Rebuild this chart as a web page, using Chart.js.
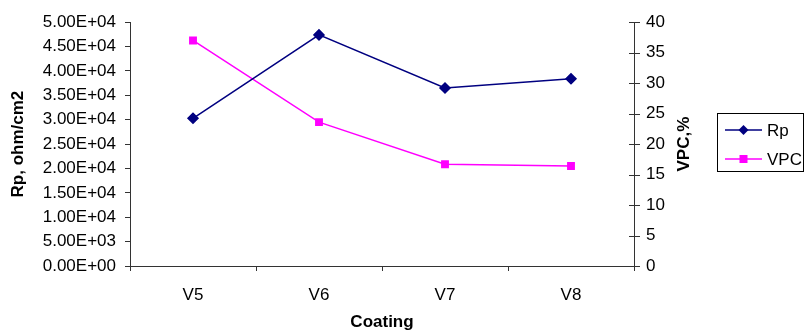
<!DOCTYPE html>
<html>
<head>
<meta charset="utf-8">
<script src="https://cdn.jsdelivr.net/npm/chart.js@4.4.1/dist/chart.umd.min.js"></script>
<style>
  html, body { margin: 0; padding: 0; background: #fff; }
  #wrap { width: 804px; height: 331px; }
</style>
</head>
<body>
<div id="wrap"><canvas id="canvas" width="804" height="331"></canvas></div>
<script>
const coatings = ["V5", "V6", "V7", "V8"];
const rpValues = [30300, 47400, 36500, 38400];
const vpcValues = [37.0, 23.6, 16.7, 16.4];
const rpTicks = [0, 5000, 10000, 15000, 20000, 25000, 30000, 35000, 40000, 45000, 50000];

const axisColor = "#333333";
const font = "Arial, 'Liberation Sans', sans-serif";

// right axis: ticks cross the axis line, title reads bottom-to-top
const rightAxisDecor = {
  id: "rightAxisDecor",
  afterDraw(chart) {
    const ctx = chart.ctx;
    const scale = chart.scales.y1;
    ctx.save();
    ctx.strokeStyle = axisColor;
    ctx.lineWidth = 1;
    ctx.beginPath();
    scale.ticks.forEach((t) => {
      const y = Math.round(scale.getPixelForValue(t.value)) + 0.5;
      ctx.moveTo(scale.left - 5, y);
      ctx.lineTo(scale.left + 6, y);
    });
    ctx.stroke();
    ctx.font = "bold 17px " + font;
    ctx.fillStyle = "#000";
    ctx.textAlign = "center";
    ctx.textBaseline = "middle";
    ctx.translate(scale.right - 10, (scale.top + scale.bottom) / 2);
    ctx.rotate(-Math.PI / 2);
    ctx.fillText("VPC,%", 0, 0);
    ctx.restore();
  },
};

// boxed legend to the right of the plot
const boxLegend = {
  id: "boxLegend",
  afterDraw(chart) {
    const ctx = chart.ctx;
    const x = 717, y = 113, w = 86, h = 58;
    ctx.save();
    ctx.strokeStyle = "#000";
    ctx.lineWidth = 1;
    ctx.strokeRect(x + 0.5, y + 0.5, w, h);
    ctx.font = "17px " + font;
    ctx.textBaseline = "middle";
    chart.data.datasets.forEach((ds, i) => {
      const cy = y + 17 + i * 29;
      ctx.strokeStyle = ds.borderColor;
      ctx.lineWidth = 1.5;
      ctx.beginPath();
      ctx.moveTo(x + 8, cy);
      ctx.lineTo(x + 45, cy);
      ctx.stroke();
      ctx.fillStyle = ds.pointBackgroundColor;
      if (ds.pointStyle === "rectRot") {
        ctx.beginPath();
        ctx.moveTo(x + 26.5, cy - 5);
        ctx.lineTo(x + 31.5, cy);
        ctx.lineTo(x + 26.5, cy + 5);
        ctx.lineTo(x + 21.5, cy);
        ctx.closePath();
        ctx.fill();
      } else {
        ctx.fillRect(x + 22.5, cy - 4, 8, 8);
      }
      ctx.fillStyle = "#000";
      ctx.fillText(ds.label, x + 50, cy + 1);
    });
    ctx.restore();
  },
};

new Chart(document.getElementById("canvas").getContext("2d"), {
  type: "line",
  data: {
    labels: coatings,
    datasets: [
      {
        label: "Rp",
        data: rpValues,
        yAxisID: "y",
        borderColor: "#000080",
        backgroundColor: "#000080",
        pointBackgroundColor: "#000080",
        pointBorderColor: "#000080",
        pointStyle: "rectRot",
        pointRadius: 5,
        borderWidth: 1.5,
        tension: 0,
      },
      {
        label: "VPC",
        data: vpcValues,
        yAxisID: "y1",
        borderColor: "#FF00FF",
        backgroundColor: "#FF00FF",
        pointBackgroundColor: "#FF00FF",
        pointBorderColor: "#FF00FF",
        pointStyle: "rect",
        pointRadius: 4.5,
        borderWidth: 1.5,
        tension: 0,
      },
    ],
  },
  options: {
    responsive: false,
    animation: false,
    layout: { padding: { left: 0, right: 110, top: 20, bottom: 0 } },
    plugins: { legend: { display: false }, tooltip: { enabled: false } },
    scales: {
      x: {
        offset: true,
        grid: {
          offset: true,
          drawOnChartArea: false,
          tickLength: 5,
          color: axisColor,
        },
        border: { color: axisColor, width: 1 },
        ticks: { color: "#000", padding: 14, font: { family: font, size: 17 } },
        title: {
          display: true,
          text: "Coating",
          color: "#000",
          font: { family: font, size: 17, weight: "bold", lineHeight: 1 },
          padding: { top: 0, bottom: 0 },
        },
        afterFit(scale) { scale.height = 65; },
      },
      y: {
        position: "left",
        min: 0,
        max: 50000,
        afterBuildTicks(scale) { scale.ticks = rpTicks.map((v) => ({ value: v })); },
        grid: { drawOnChartArea: false, tickLength: 5, color: axisColor },
        border: { color: axisColor, width: 1 },
        ticks: {
          color: "#000",
          padding: 9,
          font: { family: font, size: 17 },
          callback: (v) => {
            const s = Number(v).toExponential(2).toUpperCase();
            return s.replace(/E([+-])(\d)$/, "E$10$2");
          },
        },
        title: {
          display: true,
          text: "Rp, ohm/cm2",
          color: "#000",
          font: { family: font, size: 17, weight: "bold" },
          padding: { top: 8, bottom: 0 },
        },
        afterFit(scale) { scale.width = 130; },
      },
      y1: {
        position: "right",
        min: 0,
        max: 40,
        grid: { drawOnChartArea: false, drawTicks: false },
        border: { color: axisColor, width: 1 },
        ticks: { stepSize: 5, color: "#000", padding: 12, font: { family: font, size: 17 } },
        title: { display: false },
        afterFit(scale) { scale.width = 60; },
      },
    },
  },
  plugins: [rightAxisDecor, boxLegend],
});
</script>
</body>
</html>
